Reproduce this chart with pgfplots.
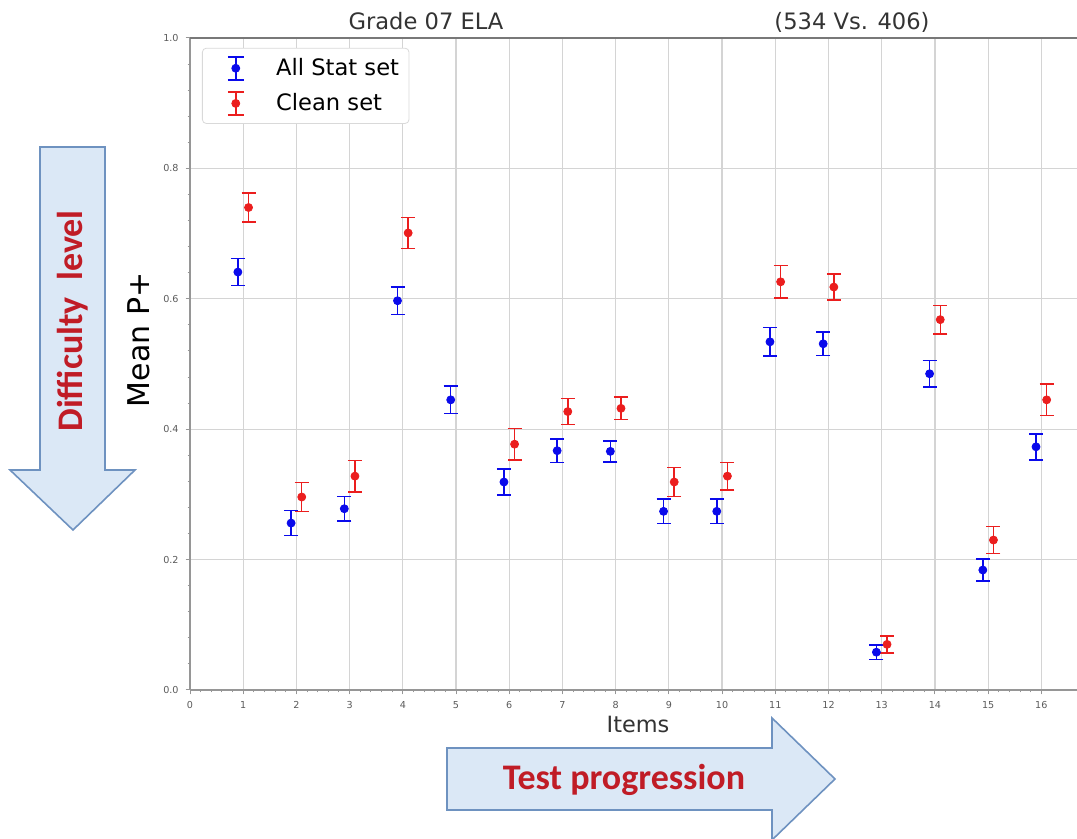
\documentclass[border=0pt]{standalone}
\usepackage{fontspec}
\setmainfont{DejaVu Sans}
\newfontfamily\carlito{Carlito}
\usepackage{pgfplots}
\usepackage{pgfplotstable}
\pgfplotsset{compat=1.18}

\definecolor{arrowfill}{RGB}{219,232,246}
\definecolor{arrowline}{RGB}{110,146,192}
\definecolor{darkred}{RGB}{192,28,38}
\definecolor{gridgray}{RGB}{212,212,212}
\definecolor{spine}{RGB}{150,150,150}
\definecolor{ticktext}{RGB}{90,90,90}
\definecolor{pblue}{RGB}{10,10,235}
\definecolor{pred}{RGB}{235,30,30}

% item positions shifted -0.1 (all stat) and +0.1 (clean)
\pgfplotstableread{
x     y      e
0.9   0.641  0.021
1.9   0.256  0.019
2.9   0.278  0.019
3.9   0.597  0.021
4.9   0.445  0.021
5.9   0.319  0.020
6.9   0.367  0.018
7.9   0.366  0.016
8.9   0.274  0.019
9.9   0.274  0.019
10.9  0.534  0.022
11.9  0.531  0.018
12.9  0.058  0.011
13.9  0.485  0.020
14.9  0.184  0.017
15.9  0.373  0.020
}\allstat

\pgfplotstableread{
x     y      e
1.1   0.740  0.022
2.1   0.296  0.022
3.1   0.328  0.024
4.1   0.701  0.024
6.1   0.377  0.024
7.1   0.427  0.020
8.1   0.432  0.017
9.1   0.319  0.022
10.1  0.328  0.021
11.1  0.626  0.025
12.1  0.618  0.020
13.1  0.070  0.013
14.1  0.568  0.022
15.1  0.230  0.021
16.1  0.445  0.024
}\clean

\pgfplotsset{
  errlegend/.style={
    legend image code/.code={
      \path (0pt,0pt) (31.5pt,0pt);
      \draw[#1, line width=0.75pt] (13.5pt,-5.75pt) -- (13.5pt,5.75pt)
          (9.5pt,-5.75pt) -- (17.5pt,-5.75pt) (9.5pt,5.75pt) -- (17.5pt,5.75pt);
      \fill[#1] (13.5pt,0pt) circle (2pt);}
  },
  errmarks/.style={
    only marks, mark=*, mark size=2pt, color=#1,
    mark options={draw=#1, fill=#1},
    error bars/.cd, y dir=both, y explicit,
    error bar style={draw=#1, line width=0.75pt},
    error mark options={rotate=90, mark size=3.5pt, draw=#1, line width=0.75pt},
    /pgfplots/.cd,
  },
}

\begin{document}
\begin{tikzpicture}
\begin{axis}[
    at={(95pt,74.5pt)}, anchor=south west,
    width=443.5pt, height=326pt, scale only axis,
    xmin=0, xmax=16.67, ymin=0, ymax=1,
    clip=false,
    axis line style={draw=none},
    xtick={0,1,...,16},
    ytick={0,0.2,0.4,0.6,0.8,1.0},
    minor x tick num=4, minor y tick num=4,
    xtick pos=left, ytick pos=left,
    tick align=outside,
    major tick length=2.2pt, minor tick length=1.2pt,
    tick style={spine, line width=0.5pt},
    grid=major,
    major grid style={gridgray, line width=0.6pt},
    ticklabel style={font=\fontsize{4.8}{5}\selectfont, text=ticktext},
    /pgf/number format/assume math mode=true,
    yticklabel style={/pgf/number format/fixed, /pgf/number format/fixed zerofill, /pgf/number format/precision=1},
    legend style={at={(0.0135,0.985)}, anchor=north west,
        draw=gray!30, rounded corners=2pt, fill=white,
        font=\fontsize{11.3}{13}\selectfont,
        row sep=3.5pt, inner xsep=3pt, inner ysep=3pt},
    legend cell align=left,
]
\addplot[errlegend=pblue, errmarks=pblue] table[x=x, y=y, y error=e] {\allstat};
\addlegendentry{All Stat set}

\addplot[errlegend=pred, errmarks=pred] table[x=x, y=y, y error=e] {\clean};
\addlegendentry{Clean set}

% spines: left, top, bottom (right side is cut off)
\draw[spine, line width=1.2pt] (rel axis cs:0,0) -- (rel axis cs:0,1);
\draw[spine!80!black, line width=0.9pt] (rel axis cs:0,1) -- (rel axis cs:1,1);
\draw[spine, line width=1pt] (rel axis cs:0,0) -- (rel axis cs:1,0);
\end{axis}

\begin{scope}[x=0.5pt, y=-0.5pt, yshift=419.5pt]
  % titles and axis labels
  \node[anchor=base, font=\fontsize{11.3}{13}\selectfont, text=black!80] at (426,30) {Grade 07 ELA};
  \node[anchor=base, font=\fontsize{11.3}{13}\selectfont, text=black!80] at (852,30) {(534 Vs. 406)};
  \node[anchor=base, font=\fontsize{11.2}{13}\selectfont, text=black!80] at (638,733) {Items};
  \node[rotate=90, font=\fontsize{15}{17}\selectfont] at (139,340) {Mean P+};

  % annotation arrows
  \draw[arrowline, fill=arrowfill, line width=0.8pt]
    (40,147) -- (105,147) -- (105,470) -- (135,470) -- (73,530) -- (10,470) -- (40,470) -- cycle;
  \node[rotate=90, font=\carlito\bfseries\fontsize{18}{20}\selectfont, text=darkred] at (73,321) {Difficulty\ \ level};

  \draw[arrowline, fill=arrowfill, line width=0.8pt]
    (447,748) -- (772,748) -- (772,718) -- (835,779) -- (772,840) -- (772,810) -- (447,810) -- cycle;
  \node[anchor=base, font=\carlito\bfseries\fontsize{18}{20}\selectfont, text=darkred] at (624,790) {Test progression};
\end{scope}

\pgfresetboundingbox
\path[use as bounding box] (0,0) rectangle (538.5pt,419.5pt);
\end{tikzpicture}
\end{document}
